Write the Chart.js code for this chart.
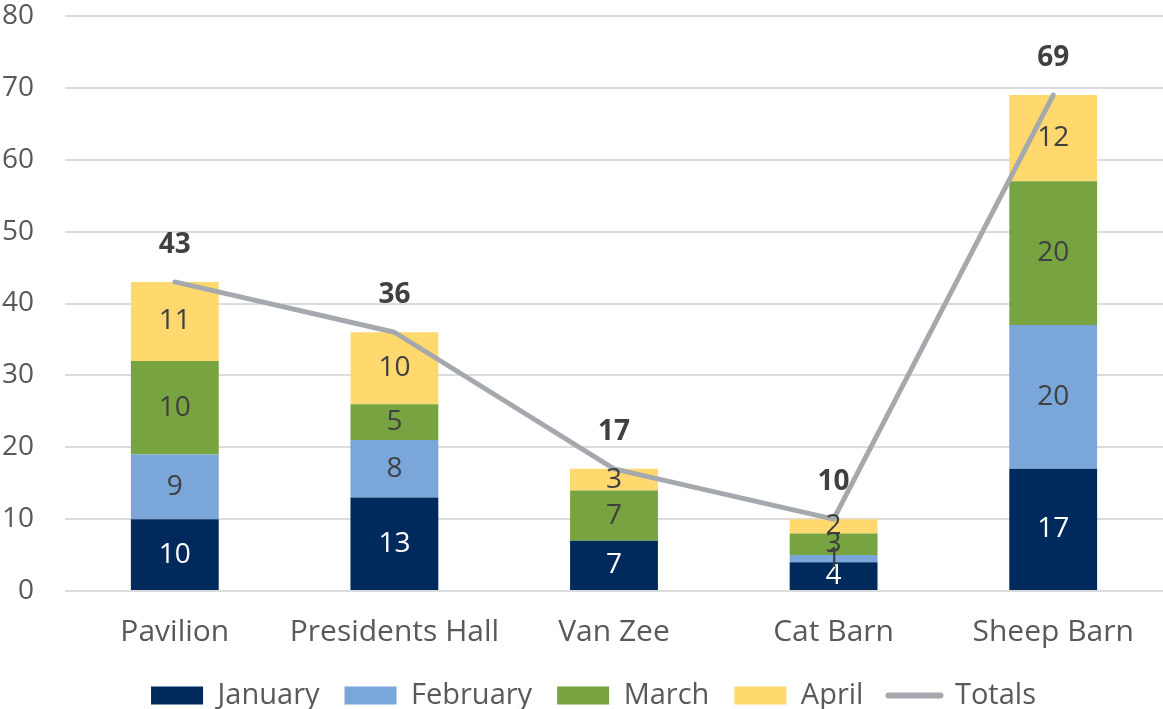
<!DOCTYPE html>
<html>
<head>
<meta charset="utf-8">
<script src="https://cdn.jsdelivr.net/npm/chart.js@4.4.1/dist/chart.umd.min.js"></script>
<style>
  html, body { margin: 0; padding: 0; background: #fff; }
  #wrap { width: 1163px; height: 709px; }
</style>
</head>
<body>
<div id="wrap"><canvas id="myChart" width="1163" height="709"></canvas></div>
<script>
var categories = ['Pavilion', 'Presidents Hall', 'Van Zee', 'Cat Barn', 'Sheep Barn'];
var january = [10, 13, 7, 4, 17];
var february = [9, 8, 0, 1, 20];
var march = [13, 5, 7, 3, 20];
var april = [11, 10, 3, 2, 12];
var totals = [43, 36, 17, 10, 69];
// the printed labels; Pavilion's March segment is drawn 13 high but reads 10
var januaryLabels = [10, 13, 7, 4, 17];
var februaryLabels = [9, 8, 0, 1, 20];
var marchLabels = [10, 5, 7, 3, 20];
var aprilLabels = [11, 10, 3, 2, 12];
var yTicks = [0, 10, 20, 30, 40, 50, 60, 70, 80];

var FONT = "'Open Sans', sans-serif";

// draws the numbers inside the segments and the bold totals
var valueLabels = {
    id: 'valueLabels',
    afterDatasetsDraw: function (chart) {
        var ctx = chart.ctx;
        ctx.save();
        ctx.textAlign = 'center';
        ctx.textBaseline = 'middle';
        chart.data.datasets.forEach(function (ds, i) {
            var meta = chart.getDatasetMeta(i);
            meta.data.forEach(function (el, j) {
                if (ds.type === 'line') {
                    ctx.font = 'bold 28px ' + FONT;
                    ctx.fillStyle = '#404040';
                    ctx.fillText(ds.data[j], el.x, el.y - 37);
                } else if (ds.data[j] > 0) {
                    ctx.font = '28px ' + FONT;
                    ctx.fillStyle = i === 0 ? '#ffffff' : '#404040';
                    ctx.fillText(ds.valueLabels[j], el.x, (el.y + el.base) / 2);
                }
            });
        });
        ctx.restore();
    }
};

// legend is lower and a bit to the right than chart.js puts it
var legendPlace = {
    id: 'legendPlace',
    beforeInit: function (chart) {
        var fit = chart.legend.fit;
        chart.legend.fit = function () {
            fit.bind(chart.legend)();
            this.height = 53;
        };
    },
    afterLayout: function (chart) {
        chart.legend.left += 12;
        chart.legend.right += 12;
    }
};

function createChart() {
    var ctx = document.getElementById('myChart').getContext('2d');
    new Chart(ctx, {
        data: {
            labels: categories,
            datasets: [
                { type: 'bar', label: 'January', data: january, valueLabels: januaryLabels, backgroundColor: '#002a5c', order: 1 },
                { type: 'bar', label: 'February', data: february, valueLabels: februaryLabels, backgroundColor: '#7aa6d9', order: 1 },
                { type: 'bar', label: 'March', data: march, valueLabels: marchLabels, backgroundColor: '#77a440', order: 1 },
                { type: 'bar', label: 'April', data: april, valueLabels: aprilLabels, backgroundColor: '#ffd96e', order: 1 },
                {
                    type: 'line', label: 'Totals', data: totals, order: 0,
                    borderColor: '#a5a9ad', backgroundColor: '#a5a9ad', borderWidth: 5,
                    pointRadius: 0, tension: 0, borderJoinStyle: 'round', borderCapStyle: 'round',
                    stack: 'totals'
                }
            ]
        },
        options: {
            responsive: false,
            animation: false,
            layout: { padding: { left: 0, right: 0, top: 16, bottom: 0 } },
            datasets: {
                bar: { categoryPercentage: 1, barPercentage: 0.4, stack: 'months' }
            },
            scales: {
                x: {
                    stacked: true,
                    grid: { display: false, drawTicks: false },
                    border: { display: false },
                    ticks: {
                        color: '#595959', font: { family: FONT, size: 30 }, padding: 23,
                        maxRotation: 0, minRotation: 0, autoSkip: false
                    },
                    afterFit: function (scale) {
                        scale.height = 65;
                        scale.paddingLeft = 0;
                        scale.paddingRight = 0;
                    }
                },
                y: {
                    stacked: true,
                    min: 0,
                    max: 80,
                    afterBuildTicks: function (axis) {
                        axis.ticks = yTicks.map(function (v) { return { value: v }; });
                    },
                    grid: { color: '#dcdcdc', lineWidth: 2, drawTicks: false },
                    border: { display: false },
                    ticks: { color: '#595959', font: { family: FONT, size: 28 }, padding: 31 },
                    afterFit: function (scale) {
                        scale.width = 65;
                        scale.paddingTop = 0;
                        scale.paddingBottom = 0;
                    }
                }
            },
            plugins: {
                tooltip: { enabled: false },
                legend: {
                    position: 'bottom',
                    labels: {
                        usePointStyle: true,
                        pointStyleWidth: 52,
                        boxHeight: 18,
                        padding: 25,
                        color: '#595959',
                        font: { family: FONT, size: 29 },
                        generateLabels: function (chart) {
                            return chart.data.datasets.map(function (ds, i) {
                                var isLine = ds.type === 'line';
                                return {
                                    text: ds.label,
                                    datasetIndex: i,
                                    fillStyle: isLine ? ds.borderColor : ds.backgroundColor,
                                    strokeStyle: isLine ? ds.borderColor : ds.backgroundColor,
                                    lineWidth: isLine ? 6 : 0,
                                    lineCap: 'round',
                                    pointStyle: isLine ? 'line' : 'rect',
                                    fontColor: '#595959',
                                    hidden: false
                                };
                            });
                        }
                    }
                }
            }
        },
        plugins: [valueLabels, legendPlace]
    });
}

createChart();
</script>
</body>
</html>
